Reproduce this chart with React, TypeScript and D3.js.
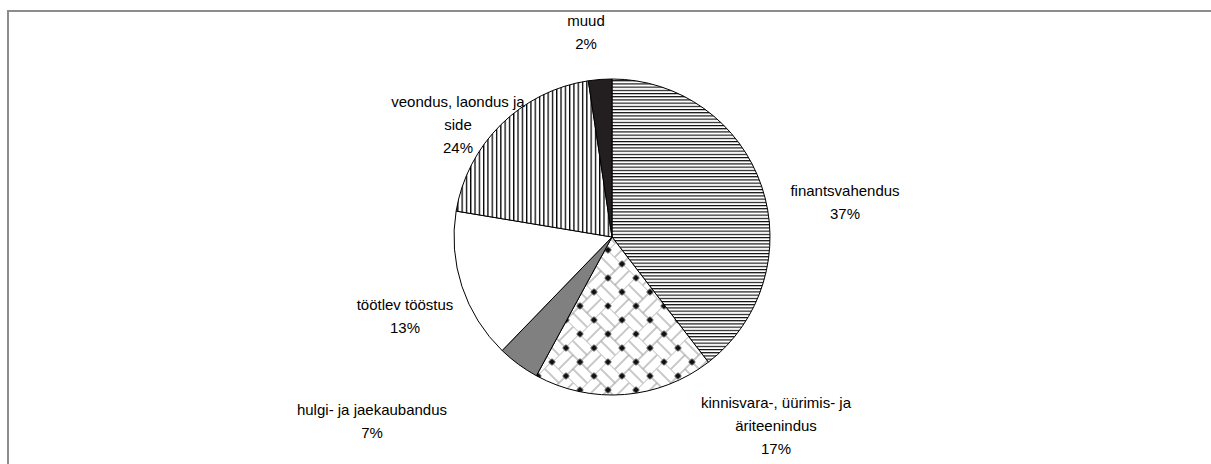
import * as d3 from "d3";

const categories = [
  "finantsvahendus",
  "kinnisvara-, üürimis- ja äriteenindus",
  "hulgi- ja jaekaubandus",
  "töötlev tööstus",
  "veondus, laondus ja side",
  "muud",
];
const shares = [39.6, 18.4, 4.3, 15.4, 20.0, 2.4];
// percentages printed in the labels
const labelPct = ["37%", "17%", "7%", "13%", "24%", "2%"];
const labelLines = [
  ["finantsvahendus"],
  ["kinnisvara-, üürimis- ja", "äriteenindus"],
  ["hulgi- ja jaekaubandus"],
  ["töötlev tööstus"],
  ["veondus, laondus ja", "side"],
  ["muud"],
];

const fills = ["url(#hlines)", "url(#weave)", "#808080", "#ffffff", "url(#vlines)", "#231f20"];

// label anchor (centre of first line)
const labelPos: Record<string, [number, number]> = {
  finantsvahendus: [845, 190],
  "kinnisvara-, üürimis- ja äriteenindus": [776, 402],
  "hulgi- ja jaekaubandus": [372, 409],
  "töötlev tööstus": [405, 304],
  "veondus, laondus ja side": [458, 101],
  muud: [586, 20],
};

const W = 1211;
const H = 464;
const cx = 612;
const cy = 237;
const R = 158;
const LINE_H = 23;
const FONT = 15;

export default function App() {
  const arcs = d3
    .pie<number>()
    .sort(null)
    .value((d) => d)(shares);
  const arc = d3.arc<d3.PieArcDatum<number>>().innerRadius(0).outerRadius(R);

  const L = 19.8; // weave cell size (rotated frame)
  const sq = 5;

  return (
    <svg
      width={W}
      height={H}
      style={{ position: "fixed", left: 0, top: 0, background: "#fff" }}
      fontFamily="'Liberation Sans', Arial, sans-serif"
    >
      <defs>
        <pattern id="hlines" patternUnits="userSpaceOnUse" width={10} height={3.2}>
          <rect width={10} height={3.2} fill="#fff" />
          <rect y={0} width={10} height={1.1} fill="#000" />
        </pattern>
        <pattern id="vlines" patternUnits="userSpaceOnUse" width={4.3} height={10}>
          <rect width={4.3} height={10} fill="#fff" />
          <rect x={0} width={1.3} height={10} fill="#000" />
        </pattern>
        <pattern
          id="weave"
          patternUnits="userSpaceOnUse"
          width={2 * L}
          height={2 * L}
          patternTransform={`translate(${cx},${cy}) rotate(45)`}
        >
          <rect width={2 * L} height={2 * L} fill="#fff" />
          <g stroke="#9a9a9a" strokeWidth={1.1}>
            {[0, L / 2, L].map((y) => (
              <line key={`a${y}`} x1={0} x2={L} y1={y} y2={y} />
            ))}
            {[L, 1.5 * L, 2 * L].map((y) => (
              <line key={`b${y}`} x1={L} x2={2 * L} y1={y} y2={y} />
            ))}
            {[L, 1.5 * L, 2 * L].map((x) => (
              <line key={`c${x}`} x1={x} x2={x} y1={0} y2={L} />
            ))}
            {[0, L / 2, L].map((x) => (
              <line key={`d${x}`} x1={x} x2={x} y1={L} y2={2 * L} />
            ))}
          </g>
          {[0, L, 2 * L].flatMap((x) =>
            [0, L, 2 * L].map((y) => (
              <rect key={`s${x}-${y}`} x={x - sq / 2} y={y - sq / 2} width={sq} height={sq} fill="#111" />
            ))
          )}
        </pattern>
      </defs>

      <rect x={8} y={11} width={W + 20} height={H + 20} fill="none" stroke="#8c8c8c" strokeWidth={2} />

      <g transform={`translate(${cx},${cy})`}>
        {arcs.map((a, i) => (
          <path key={categories[i]} d={arc(a) ?? ""} fill={fills[i]} stroke="#000" strokeWidth={1} />
        ))}
      </g>

      {categories.map((c, i) => {
        const [x, y] = labelPos[c];
        const lines = [...labelLines[i], labelPct[i]];
        return (
          <text key={c} fontSize={FONT} fill="#000" textAnchor="middle">
            {lines.map((t, j) => (
              <tspan key={j} x={x} y={y + j * LINE_H} dominantBaseline="central">
                {t}
              </tspan>
            ))}
          </text>
        );
      })}
    </svg>
  );
}
